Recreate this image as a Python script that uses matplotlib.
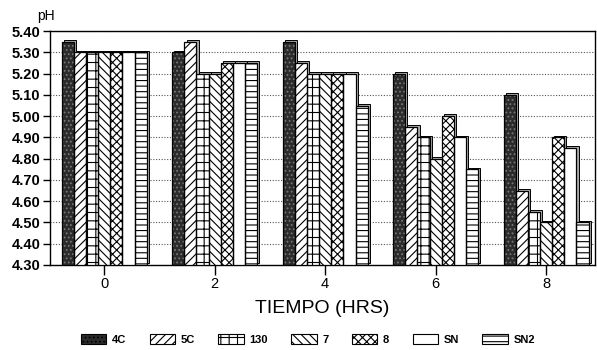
import matplotlib
matplotlib.use("Agg")
import matplotlib.pyplot as plt
import numpy as np
from matplotlib.patches import Patch

plt.rcParams['font.family'] = ['Liberation Sans', 'DejaVu Sans']
plt.rcParams['hatch.linewidth'] = 0.8

tiempo = [0, 2, 4, 6, 8]
series = ["4C", "5C", "130", "7", "8", "SN", "SN2"]
ph_4C = [5.35, 5.30, 5.35, 5.20, 5.10]
ph_5C = [5.30, 5.35, 5.25, 4.95, 4.65]
ph_130 = [5.30, 5.20, 5.20, 4.90, 4.55]
ph_7 = [5.30, 5.20, 5.20, 4.80, 4.50]
ph_8 = [5.30, 5.25, 5.20, 5.00, 4.90]
ph_SN = [5.30, 5.25, 5.20, 4.90, 4.85]
ph_SN2 = [5.30, 5.25, 5.05, 4.75, 4.50]
values = [ph_4C, ph_5C, ph_130, ph_7, ph_8, ph_SN, ph_SN2]
yticks = [4.30, 4.40, 4.50, 4.60, 4.70, 4.80, 4.90, 5.00, 5.10, 5.20, 5.30, 5.40]

hatches = ['....', '////', '++', '\\\\\\\\', 'xxxx', None, '---']
faces = ['#2b2b2b', 'white', 'white', 'white', 'white', 'white', 'white']
edges = ['#777777', 'black', 'black', 'black', 'black', 'black', 'black']

fig = plt.figure(figsize=(5.97, 3.5), dpi=100)
ax = fig.add_axes([0.084, 0.243, 0.913, 0.668])

base = 4.30
w = 0.22
x = np.array(tiempo, dtype=float)
for i, (name, vals) in enumerate(zip(series, values)):
    pos = x + (i - 3) * w
    heights = np.array(vals) - base
    # 3D shadow
    ax.bar(pos + 0.04, heights, width=w, bottom=base + 0.008, color='#aaaaaa',
           edgecolor='black', linewidth=0.7, zorder=2)
    ax.bar(pos, heights, width=w, bottom=base, color=faces[i], hatch=hatches[i],
           edgecolor=edges[i], linewidth=0.0, zorder=3)
    ax.bar(pos, heights, width=w, bottom=base, fill=False,
           edgecolor='black', linewidth=0.9, zorder=4)

ax.set_ylim(4.30, 5.40)
ax.set_xlim(-0.98, 8.89)
ax.set_yticks(yticks)
ax.set_yticklabels([f"{v:.2f}" for v in yticks], fontsize=10.5, fontweight='bold')
ax.set_xticks(tiempo)
ax.set_xticklabels([str(t) for t in tiempo], fontsize=10.5)
ax.tick_params(axis='x', direction='out', length=7, width=1, pad=2)
ax.tick_params(axis='y', direction='out', length=5, width=1, pad=2)
ax.yaxis.grid(True, linestyle=(0, (1, 1.5)), color='#555555', linewidth=0.8, zorder=0)
ax.set_axisbelow(True)
for s in ax.spines.values():
    s.set_linewidth(1.0)

ax.set_xlabel("TIEMPO (HRS)", fontsize=14, labelpad=6)
fig.text(0.062, 0.935, "pH", fontsize=10, ha='left', va='bottom')

proxy = [Patch(facecolor=faces[i], hatch=hatches[i], edgecolor='black', linewidth=0.8)
         for i in range(len(series))]
leg = fig.legend(proxy, series, loc='center', bbox_to_anchor=(0.516, 0.03),
                 ncol=7, frameon=False, fontsize=8, handlelength=2.3,
                 handleheight=1.0, columnspacing=2.1, handletextpad=0.5,
                 borderpad=0.1)
for t in leg.get_texts():
    t.set_fontweight('bold')

fig.savefig("out.png", dpi=100)
